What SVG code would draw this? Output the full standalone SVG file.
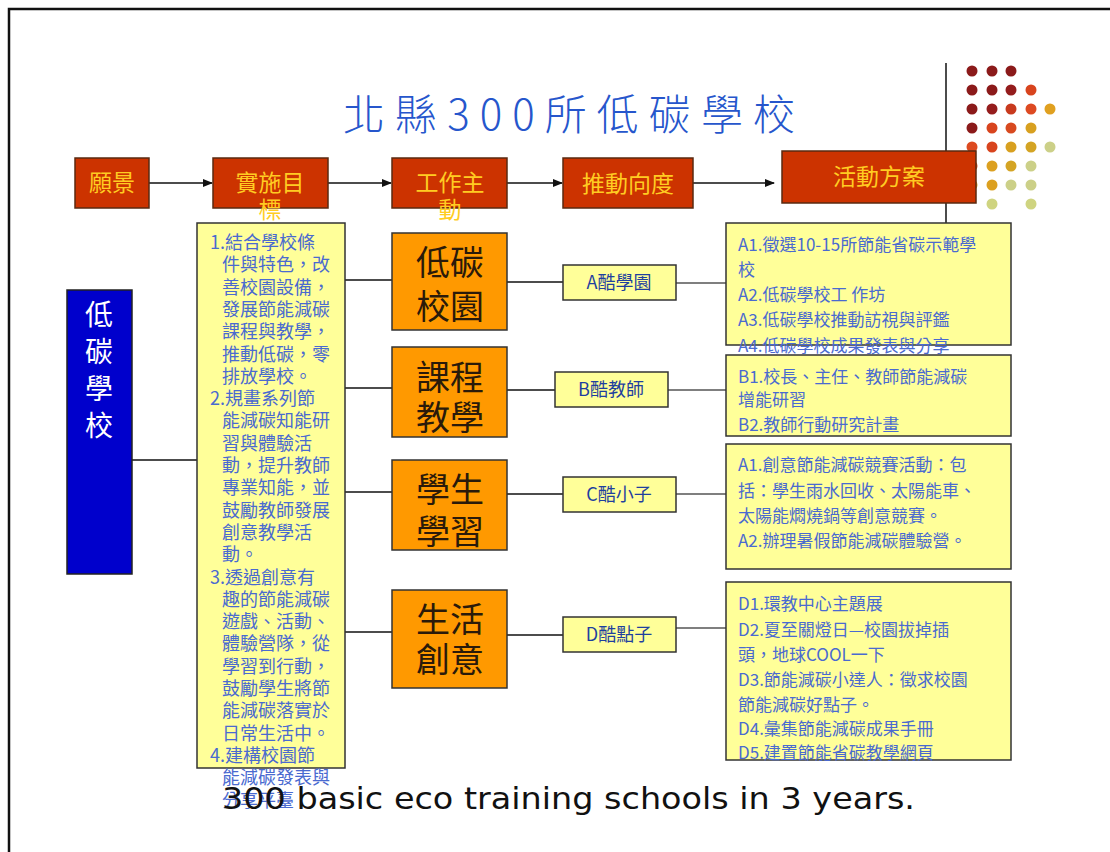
<svg xmlns="http://www.w3.org/2000/svg" width="1110" height="852" viewBox="0 0 1110 852">
<style>
.hdr{fill:#cc3300;stroke:#5a2a10;stroke-width:1.5}
.ht{font-family:"Noto Sans CJK TC","Noto Sans CJK SC",sans-serif;font-size:23px;fill:#ffcc22;text-anchor:middle}
.org{fill:#ff9900;stroke:#333;stroke-width:1.5}
.ot{font-family:"Noto Sans CJK TC","Noto Sans CJK SC",sans-serif;font-size:34px;fill:#2a1a0a;text-anchor:middle}
.yb{fill:#ffff99;stroke:#333;stroke-width:1.5}
.lt{font-family:"Noto Sans CJK TC","Noto Sans CJK SC",sans-serif;font-size:18px;fill:#4a6ad0}
.rt{font-family:"Noto Sans CJK TC","Noto Sans CJK SC",sans-serif;font-size:17px;fill:#4a6ad0}
.lb{font-family:"Noto Sans CJK TC","Noto Sans CJK SC",sans-serif;font-size:18px;fill:#1f3f9f;text-anchor:middle}
.ln{stroke:#111;stroke-width:1.5;fill:none}
.lg{stroke:#555;stroke-width:1.5;fill:none}
</style>
<defs>
<marker id="ah" markerWidth="10" markerHeight="10" refX="9" refY="5" orient="auto" markerUnits="userSpaceOnUse">
<path d="M0,1 L10,5 L0,9 Z" fill="#111"/>
</marker>
</defs>
<rect x="0" y="0" width="1110" height="852" fill="#fff"/>
<path d="M9,852 V9 H1110" stroke="#111" stroke-width="2.5" fill="none"/>
<text x="343" y="130" font-family="'Noto Sans CJK TC','Noto Sans CJK SC',sans-serif" font-size="42" font-weight="300" fill="#2656cc" textLength="452" lengthAdjust="spacing">北縣300所低碳學校</text>
<line x1="946" y1="63" x2="946" y2="223" stroke="#111" stroke-width="1.5"/>
<g id="dots">
<circle cx="972" cy="71" r="5.5" fill="#8b1a1a"/><circle cx="992" cy="71" r="5.5" fill="#8b1a1a"/><circle cx="1011" cy="71" r="5.5" fill="#8b1a1a"/>
<circle cx="972" cy="90" r="5.5" fill="#8b1a1a"/><circle cx="992" cy="90" r="5.5" fill="#8b1a1a"/><circle cx="1011" cy="90" r="5.5" fill="#941c1c"/><circle cx="1031" cy="90" r="5.5" fill="#d8441e"/>
<circle cx="972" cy="109" r="5.5" fill="#8b1a1a"/><circle cx="992" cy="109" r="5.5" fill="#951d1d"/><circle cx="1011" cy="109" r="5.5" fill="#c83a1e"/><circle cx="1031" cy="109" r="5.5" fill="#dd4a22"/><circle cx="1050" cy="109" r="5.5" fill="#e0a020"/>
<circle cx="972" cy="128" r="5.5" fill="#8b1a1a"/><circle cx="992" cy="128" r="5.5" fill="#d8441e"/><circle cx="1011" cy="128" r="5.5" fill="#d84a20"/><circle cx="1031" cy="128" r="5.5" fill="#d8a020"/>
<circle cx="972" cy="147" r="5.5" fill="#dd4a20"/><circle cx="992" cy="147" r="5.5" fill="#d8441e"/><circle cx="1011" cy="147" r="5.5" fill="#d8a020"/><circle cx="1031" cy="147" r="5.5" fill="#d4a424"/><circle cx="1050" cy="147" r="5.5" fill="#ccd088"/>
<circle cx="972" cy="166" r="5.5" fill="#dd5020"/><circle cx="992" cy="166" r="5.5" fill="#dca020"/><circle cx="1011" cy="166" r="5.5" fill="#d4a424"/><circle cx="1031" cy="166" r="5.5" fill="#ccd088"/>
<circle cx="972" cy="185" r="5.5" fill="#dca020"/><circle cx="992" cy="185" r="5.5" fill="#dca020"/><circle cx="1011" cy="185" r="5.5" fill="#ccd088"/><circle cx="1031" cy="185" r="5.5" fill="#ccd088"/>
<circle cx="992" cy="204" r="5.5" fill="#cfd480"/><circle cx="1031" cy="204" r="5.5" fill="#cfd480"/>
</g>
<g id="connectors">
<line class="ln" x1="149" y1="183" x2="212" y2="183" marker-end="url(#ah)"/>
<line class="ln" x1="328" y1="183" x2="391" y2="183" marker-end="url(#ah)"/>
<line class="ln" x1="507" y1="183" x2="562" y2="183" marker-end="url(#ah)"/>
<line class="ln" x1="693" y1="183" x2="774" y2="183" marker-end="url(#ah)"/>
<line class="ln" x1="132" y1="460" x2="197" y2="460"/>
<line class="ln" x1="345" y1="280" x2="392" y2="280"/>
<line class="ln" x1="345" y1="388" x2="392" y2="388"/>
<line class="ln" x1="345" y1="492" x2="392" y2="492"/>
<line class="ln" x1="345" y1="632" x2="392" y2="632"/>
<line class="ln" x1="507" y1="282" x2="563" y2="282"/>
<line class="ln" x1="507" y1="390" x2="555" y2="390"/>
<line class="ln" x1="507" y1="494" x2="563" y2="494"/>
<line class="ln" x1="507" y1="635" x2="563" y2="635"/>
<line class="lg" x1="676" y1="283" x2="726" y2="283"/>
<line class="lg" x1="668" y1="390" x2="726" y2="390"/>
<line class="lg" x1="676" y1="494" x2="726" y2="494"/>
<line class="lg" x1="676" y1="628" x2="726" y2="628"/>
</g>
<g id="n-vision"><rect class="hdr" x="75" y="158" width="74" height="50"/><text class="ht" x="112" y="191">願景</text></g>
<g id="n-goal"><rect class="hdr" x="213" y="158" width="115" height="50"/><text class="ht" x="270" y="191">實施目</text><text class="ht" x="270" y="218">標</text></g>
<g id="n-theme"><rect class="hdr" x="392" y="158" width="115" height="50"/><text class="ht" x="450" y="191">工作主</text><text class="ht" x="450" y="218">動</text></g>
<g id="n-dir"><rect class="hdr" x="563" y="158" width="130" height="50"/><text class="ht" x="628" y="192" font-size="24">推動向度</text></g>
<g id="n-plan"><rect class="hdr" x="782" y="151" width="194" height="52"/><text class="ht" x="879" y="185" font-size="24">活動方案</text></g>
<g id="n-school"><rect x="67" y="290" width="65" height="284" fill="#0000cc" stroke="#222" stroke-width="1.5"/>
<g font-family="'Noto Sans CJK TC','Noto Sans CJK SC',sans-serif" font-size="28" fill="#fff" text-anchor="middle">
<text x="99" y="325">低</text><text x="99" y="362">碳</text><text x="99" y="399">學</text><text x="99" y="436">校</text></g></g>
<g id="n-goals-list"><rect class="yb" x="197" y="223" width="148" height="545"/>
<text class="lt">
<tspan x="210" y="249">1.結合學校條</tspan>
<tspan x="222" y="271.3">件與特色，改</tspan>
<tspan x="222" y="293.6">善校園設備，</tspan>
<tspan x="222" y="315.9">發展節能減碳</tspan>
<tspan x="222" y="338.2">課程與教學，</tspan>
<tspan x="222" y="360.5">推動低碳，零</tspan>
<tspan x="222" y="382.8">排放學校。</tspan>
<tspan x="210" y="405.1">2.規畫系列節</tspan>
<tspan x="222" y="427.4">能減碳知能研</tspan>
<tspan x="222" y="449.7">習與體驗活</tspan>
<tspan x="222" y="472">動，提升教師</tspan>
<tspan x="222" y="494.3">專業知能，並</tspan>
<tspan x="222" y="516.6">鼓勵教師發展</tspan>
<tspan x="222" y="538.9">創意教學活</tspan>
<tspan x="222" y="561.2">動。</tspan>
<tspan x="210" y="583.5">3.透過創意有</tspan>
<tspan x="222" y="605.8">趣的節能減碳</tspan>
<tspan x="222" y="628.1">遊戲、活動、</tspan>
<tspan x="222" y="650.4">體驗營隊，從</tspan>
<tspan x="222" y="672.7">學習到行動，</tspan>
<tspan x="222" y="695">鼓勵學生將節</tspan>
<tspan x="222" y="717.3">能減碳落實於</tspan>
<tspan x="222" y="739.6">日常生活中。</tspan>
<tspan x="210" y="761.9">4.建構校園節</tspan>
<tspan x="222" y="784.2">能減碳發表與</tspan>
<tspan x="222" y="806.5">分享平臺</tspan>
</text></g>
<g id="n-campus"><rect class="org" x="392" y="233" width="115" height="97"/><text class="ot" x="450" y="275">低碳</text><text class="ot" x="450" y="319">校園</text></g>
<g id="n-teach"><rect class="org" x="392" y="347" width="115" height="90"/><text class="ot" x="450" y="390">課程</text><text class="ot" x="450" y="430">教學</text></g>
<g id="n-learn"><rect class="org" x="392" y="460" width="115" height="90"/><text class="ot" x="450" y="502">學生</text><text class="ot" x="450" y="544">學習</text></g>
<g id="n-life"><rect class="org" x="392" y="590" width="115" height="98"/><text class="ot" x="450" y="632">生活</text><text class="ot" x="450" y="672">創意</text></g>
<g id="n-a"><rect class="yb" x="563" y="265" width="113" height="35"/><text class="lb" x="619" y="289">A酷學園</text></g>
<g id="n-b"><rect class="yb" x="555" y="372" width="113" height="35"/><text class="lb" x="611" y="396">B酷教師</text></g>
<g id="n-c"><rect class="yb" x="563" y="477" width="113" height="35"/><text class="lb" x="619" y="501">C酷小子</text></g>
<g id="n-d"><rect class="yb" x="563" y="617" width="113" height="35"/><text class="lb" x="619" y="641">D酷點子</text></g>
<g id="n-a-list"><rect class="yb" x="726" y="223" width="285" height="122"/>
<text class="rt"><tspan x="738" y="251">A1.徵選10-15所節能省碳示範學</tspan><tspan x="738" y="276">校</tspan><tspan x="738" y="301">A2.低碳學校工 作坊</tspan><tspan x="738" y="326">A3.低碳學校推動訪視與評鑑</tspan><tspan x="738" y="352">A4.低碳學校成果發表與分享</tspan></text></g>
<g id="n-b-list"><rect class="yb" x="726" y="355" width="285" height="81"/>
<text class="rt"><tspan x="738" y="383">B1.校長、主任、教師節能減碳</tspan><tspan x="738" y="406">增能研習</tspan><tspan x="738" y="431">B2.教師行動研究計畫</tspan></text></g>
<g id="n-c-list"><rect class="yb" x="726" y="444" width="285" height="125"/>
<text class="rt"><tspan x="738" y="471">A1.創意節能減碳競賽活動：包</tspan><tspan x="738" y="497">括：學生雨水回收、太陽能車、</tspan><tspan x="738" y="522">太陽能燜燒鍋等創意競賽。</tspan><tspan x="738" y="547">A2.辦理暑假節能減碳體驗營。</tspan></text></g>
<g id="n-d-list"><rect class="yb" x="726" y="582" width="285" height="178"/>
<text class="rt"><tspan x="738" y="610">D1.環教中心主題展</tspan><tspan x="738" y="636">D2.夏至關燈日—校園拔掉插</tspan><tspan x="738" y="661">頭，地球COOL一下</tspan><tspan x="738" y="686">D3.節能減碳小達人：徵求校園</tspan><tspan x="738" y="711">節能減碳好點子。</tspan><tspan x="738" y="735">D4.彙集節能減碳成果手冊</tspan><tspan x="738" y="759">D5.建置節能省碳教學網頁</tspan></text></g>
<text x="222" y="809" font-family="'DejaVu Sans',sans-serif" font-size="30" fill="#111" textLength="693" lengthAdjust="spacingAndGlyphs">300 basic eco training schools in 3 years.</text>
</svg>
